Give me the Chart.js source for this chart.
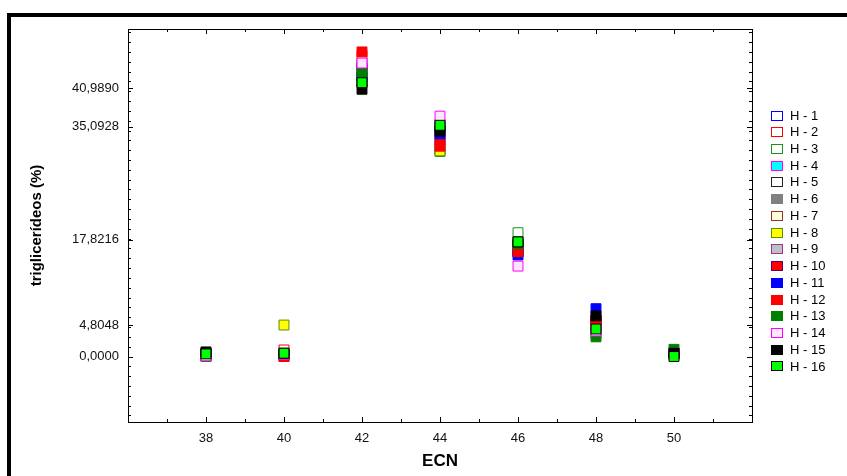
<!DOCTYPE html>
<html>
<head>
<meta charset="utf-8">
<title>ECN</title>
<script src="https://cdn.jsdelivr.net/npm/chart.js@4.4.1/dist/chart.umd.min.js"></script>
<style>
  body { margin: 0; background: #ffffff; }
  #wrap { width: 847px; height: 476px; }
</style>
</head>
<body>
<div id="wrap"><canvas id="maingraph" width="847" height="476"></canvas></div>
<script>
// ECN values on the x axis
const ecn = [38, 40, 42, 44, 46, 48, 50];
const xTicks = [38, 40, 42, 44, 46, 48, 50];
const yTicks = [0.0, 4.8048, 17.8216, 35.0928, 40.989];

// triglycerides (%) per sample, one value per ECN
const h1  = [0.2, 0.3, 44.0, 35.0, 16.0, 5.0, 0.5];
const h2  = [0.1, 1.0, 46.0, 33.0, 16.5, 5.0, 0.5];
const h3  = [0.0, 0.3, 43.0, 31.3, 18.9, 3.5, 0.3];
const h4  = [0.3, 0.4, 43.5, 35.5, 16.5, 5.5, 0.5];
const h5  = [0.4, 0.4, 42.0, 34.5, 17.0, 5.5, 0.5];
const h6  = [0.3, 0.4, 43.6, 35.2, 17.0, 5.0, 0.5];
const h7  = [0.3, 0.4, 42.0, 31.6, 16.0, 4.5, 0.5];
const h8  = [0.5, 4.8048, 42.0, 31.4, 16.5, 4.5, 0.5];
const h9  = [0.1, 0.3, 43.0, 35.0, 16.0, 4.5, 0.5];
const h10 = [0.4, 0.0, 44.5, 33.0, 16.0, 5.6, 0.5];
const h11 = [0.5, 0.3, 42.6, 34.0, 15.5, 7.3, 0.5];
const h12 = [0.4, 0.0, 46.5, 32.1, 16.0, 5.7, 0.3];
const h13 = [0.0, 0.3, 43.3, 35.3, 17.2, 3.0, 1.1];
const h14 = [0.1, 0.3, 44.8, 36.7, 13.8, 3.9, 0.5];
const h15 = [0.7, 0.5, 40.8, 34.4, 17.5, 6.2, 0.5];
const h16 = [0.4, 0.5, 41.8, 35.3, 17.5, 4.2, 0.0];

const seriesNames = ["H - 1", "H - 2", "H - 3", "H - 4", "H - 5", "H - 6", "H - 7", "H - 8",
  "H - 9", "H - 10", "H - 11", "H - 12", "H - 13", "H - 14", "H - 15", "H - 16"];
const seriesValues = [h1, h2, h3, h4, h5, h6, h7, h8, h9, h10, h11, h12, h13, h14, h15, h16];
const borderColors = ["#0000ff", "#ff0000", "#1f8f1f", "#ff00ff", "#222222", "#808080", "#8b3a2a", "#5c8f00",
  "#993399", "#660066", "#0000ff", "#ff0000", "#008000", "#ff00ff", "#000000", "#000000"];
const fillColors = ["#ffffff", "#ffffff", "#ffffff", "#00ffff", "#ffffff", "#808080", "#ffffe0", "#ffff00",
  "#c0c0c0", "#ff0000", "#0000ff", "#ff0000", "#008000", "#ffe6ff", "#000000", "#00ff00"];

const datasets = seriesValues.map(function (vals, i) {
  return {
    label: seriesNames[i],
    data: vals.map(function (v, j) { return { x: ecn[j], y: v }; }),
    pointStyle: "rect",
    pointRadius: 7,
    pointBorderWidth: 1,
    borderColor: borderColors[i],
    backgroundColor: fillColors[i],
    order: seriesNames.length - i // later samples drawn on top
  };
});

// thick outer frame, plot box, inward ticks and the legend column
const decorations = {
  id: "decorations",
  beforeDraw(chart) {
    const c = chart.ctx;
    c.save();
    c.fillStyle = "#ffffff";
    c.fillRect(0, 0, chart.width, chart.height);
    c.strokeStyle = "#000000";
    c.lineWidth = 4;
    c.strokeRect(9, 15, 900, 600);
    c.restore();
  },
  afterDraw(chart) {
    const c = chart.ctx;
    const a = chart.chartArea;
    const xs = chart.scales.x;
    const ys = chart.scales.y;
    c.save();
    c.strokeStyle = "#000000";
    c.lineWidth = 1;
    c.strokeRect(a.left + 0.5, a.top + 0.5, a.right - a.left, a.bottom - a.top);

    c.beginPath();
    for (let v = 36; v <= 52; v++) {
      const px = Math.round(xs.getPixelForValue(v)) + 0.5;
      const len = v % 2 === 0 ? 5 : 3;
      c.moveTo(px, a.bottom); c.lineTo(px, a.bottom - len);
      c.moveTo(px, a.top); c.lineTo(px, a.top + len);
    }
    for (let v = -9; v <= 50; v += 1.5) {
      const py = Math.round(ys.getPixelForValue(v)) + 0.5;
      c.moveTo(a.left, py); c.lineTo(a.left + 3, py);
      c.moveTo(a.right, py); c.lineTo(a.right - 3, py);
    }
    yTicks.forEach(function (v) {
      const py = Math.round(ys.getPixelForValue(v)) + 0.5;
      c.moveTo(a.left, py); c.lineTo(a.left + 5, py);
      c.moveTo(a.right, py); c.lineTo(a.right - 5, py);
    });
    c.stroke();

    // legend
    c.font = "13px 'Liberation Sans', Arial, sans-serif";
    c.textBaseline = "middle";
    c.textAlign = "left";
    chart.data.datasets.forEach(function (ds, i) {
      const cy = 115 + i * 16.73;
      c.fillStyle = ds.backgroundColor;
      c.fillRect(771.5, Math.round(cy - 4.5) + 0.5, 11, 9);
      c.strokeStyle = ds.borderColor;
      c.strokeRect(771.5, Math.round(cy - 4.5) + 0.5, 11, 9);
      c.fillStyle = "#000000";
      c.fillText(ds.label, 790, cy + 1);
    });
    c.restore();
  }
};

const ctx = document.getElementById("maingraph");

new Chart(ctx, {
  type: "scatter",
  data: { datasets: datasets },
  options: {
    responsive: false,
    animation: false,
    layout: { padding: { left: 0, right: 95, top: 29, bottom: 0 } },
    plugins: {
      legend: { display: false },
      tooltip: { enabled: false }
    },
    scales: {
      x: {
        type: "linear",
        min: 36,
        max: 52,
        afterBuildTicks: function (scale) {
          scale.ticks = xTicks.map(function (v) { return { value: v }; });
        },
        afterFit: function (scale) { scale.height = 54; },
        grid: { display: false, drawTicks: false },
        border: { display: false },
        ticks: {
          color: "#111111",
          padding: 9,
          font: { family: "'Liberation Sans', Arial, sans-serif", size: 13 }
        },
        title: {
          display: true,
          text: "ECN",
          color: "#000000",
          padding: { top: 0, bottom: 4 },
          font: { family: "'Liberation Sans', Arial, sans-serif", size: 17, weight: "bold" }
        }
      },
      y: {
        type: "linear",
        min: -10,
        max: 50,
        afterBuildTicks: function (scale) {
          scale.ticks = yTicks.map(function (v) { return { value: v }; });
        },
        afterFit: function (scale) { scale.width = 128; },
        grid: { display: false, drawTicks: false },
        border: { display: false },
        ticks: {
          color: "#111111",
          padding: 9,
          font: { family: "'Liberation Sans', Arial, sans-serif", size: 13 },
          callback: function (v) { return v.toFixed(4).replace(".", ","); }
        },
        title: {
          display: true,
          text: "triglicerídeos (%)",
          color: "#000000",
          padding: { top: 28, bottom: 0 },
          font: { family: "'Liberation Sans', Arial, sans-serif", size: 15, weight: "bold" }
        }
      }
    }
  },
  plugins: [decorations]
});
</script>
</body>
</html>
